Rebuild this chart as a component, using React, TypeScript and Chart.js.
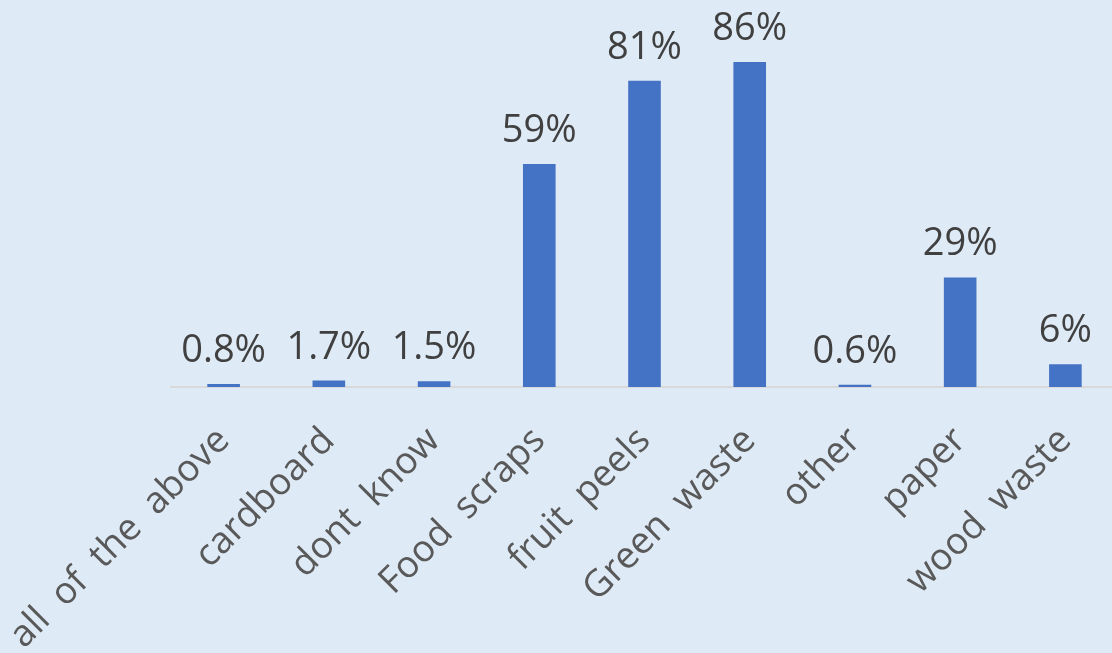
import React, { useEffect, useRef } from "react";
import { Chart, registerables } from "chart.js";

Chart.register(...registerables);

const categories = [
  "all  of  the  above",
  "cardboard",
  "dont  know",
  "Food  scraps",
  "fruit  peels",
  "Green  waste",
  "other",
  "paper",
  "wood  waste",
];
const values = [0.8, 1.7, 1.5, 59, 81, 86, 0.6, 29, 6];

const BG = "#DEEAF6";
const FONT = "'Open Sans', 'Noto Sans', sans-serif";

const dataLabels = {
  id: "dataLabels",
  afterDatasetsDraw(chart: any) {
    const ctx = chart.ctx;
    const meta = chart.getDatasetMeta(0);
    ctx.save();
    ctx.fillStyle = "#404040";
    ctx.font = `38px ${FONT}`;
    ctx.textAlign = "center";
    ctx.textBaseline = "alphabetic";
    meta.data.forEach((bar: any, i: number) => {
      const v = values[i];
      const txt = (Number.isInteger(v) ? String(v) : v.toFixed(1)) + "%";
      ctx.fillText(txt, bar.x, bar.y - 22);
    });
    ctx.restore();
  },
};

export default function App() {
  const ref = useRef<HTMLCanvasElement | null>(null);
  useEffect(() => {
    if (!ref.current) return;
    const chart = new Chart(ref.current, {
      type: "bar",
      data: {
        labels: categories,
        datasets: [
          {
            data: values,
            backgroundColor: "#4472C4",
            barPercentage: 0.62,
            categoryPercentage: 0.5,
          },
        ],
      },
      options: {
        animation: false,
        responsive: false,
        devicePixelRatio: 1,
        layout: { padding: { left: 171, right: 12, top: 9, bottom: 0 } },
        plugins: { legend: { display: false }, tooltip: { enabled: false } },
        scales: {
          x: {
            grid: { display: false },
            border: { display: true, color: "#D9D9D9", width: 2 },
            ticks: {
              color: "#595959",
              font: { family: FONT, size: 37 },
              maxRotation: 45,
              minRotation: 45,
              autoSkip: false,
              padding: 24,
            },
            afterFit: (scale: any) => {
              scale.height = 266;
              scale.paddingLeft = 0;
              scale.paddingRight = 0;
            },
          },
          y: {
            display: false,
            min: 0,
            max: 100,
          },
        },
      },
      plugins: [dataLabels],
    });
    return () => chart.destroy();
  }, []);
  return (
    <div
      style={{
        position: "fixed",
        left: 0,
        top: 0,
        width: 1112,
        height: 653,
        overflow: "hidden",
        background: BG,
      }}
    >
      <canvas ref={ref} width={1130} height={653} style={{ display: "block" }} />
    </div>
  );
}
